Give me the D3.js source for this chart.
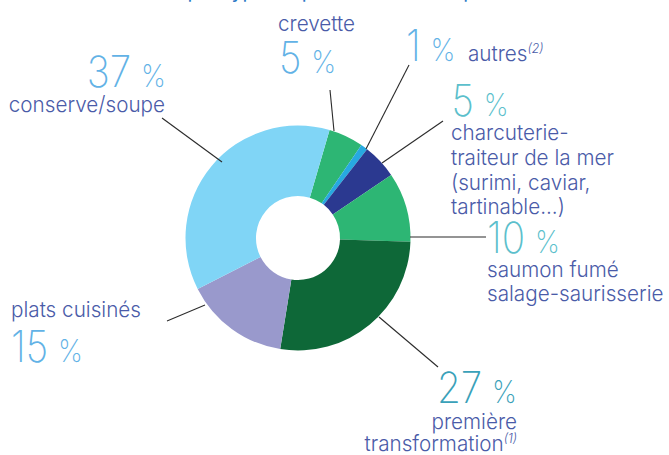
<!DOCTYPE html>
<html>
<head>
<meta charset="utf-8">
<script src="https://cdn.jsdelivr.net/npm/d3@7/dist/d3.min.js"></script>
<style>
  html, body { margin: 0; padding: 0; background: #fff; overflow: hidden; }
  svg { display: block; }
  text { font-family: Inter, "Open Sans", sans-serif; }
</style>
</head>
<body>
<svg id="chart" width="669" height="455"></svg>
<script>
// Segments, clockwise from the first slice
const categories = ["crevette", "autres", "charcuterie-traiteur de la mer", "saumon fumé salage-saurisserie",
                    "première transformation", "plats cuisinés", "conserve/soupe"];
const values = [5, 1, 5, 10, 27, 15, 37];
// Text lines next to each percentage
const labelLines = [
  ["crevette"],
  ["autres"],
  ["charcuterie-", "traiteur de la mer", "(surimi, caviar,", "tartinable...)"],
  ["saumon fumé", "salage-saurisserie"],
  ["première", "transformation"],
  ["plats cuisinés"],
  ["conserve/soupe"]
];
const notes = ["", "(2)", "", "", "(1)", "", ""];
const titleText = "Chiffre d’affaires par type de produit des entreprises";

const sliceColors = ["#2db674", "#27a9e1", "#2b3990", "#2db674", "#0e6838", "#9999cc", "#80d5f6"];
const pctColors = ["#62b2e6", "#62b2e6", "#5cbfcc", "#5cbfcc", "#3aa1b9", "#62b2e6", "#62b2e6"];
const labelColor = "#4a5ba8";

const svg = d3.select("#chart");
const cx = 298, cy = 238, rOuter = 112.5, rInner = 42;
const startDeg = 16.3;

// Title line running off the top edge
const title = svg.append("text")
  .attr("y", -2.5)
  .attr("fill", "#2a78c6")
  .attr("font-size", 20)
  .attr("font-family", "Open Sans")
  .text(titleText);
{
  const probe = svg.append("text").attr("font-size", 20).attr("font-family", "Open Sans")
    .text("Chiffre d’affaires ");
  const w = probe.node().getComputedTextLength();
  probe.remove();
  title.attr("x", 182 - w);
}

const pie = d3.pie().sort(null).value(d => d)
  .startAngle(startDeg * Math.PI / 180)
  .endAngle(startDeg * Math.PI / 180 + 2 * Math.PI);
const arc = d3.arc().innerRadius(rInner).outerRadius(rOuter);
const arcs = pie(values);

const g = svg.append("g").attr("transform", `translate(${cx},${cy})`);
g.selectAll("path").data(arcs).join("path")
  .attr("d", arc)
  .attr("fill", (d, i) => sliceColors[i]);

// Leader lines: start point on the label side, end point inside the ring
const leaders = [
  [[330, 90], [334, 131]],
  [[409, 65], [366, 149]],
  [[443, 121], [382, 163]],
  [[410, 237], [486, 237]],
  [[379, 317], [438, 367]],
  [[167, 321], [205, 305]],
  [[162, 118], [222, 162]]
];
svg.append("g").selectAll("line").data(leaders).join("line")
  .attr("x1", d => d[0][0]).attr("y1", d => d[0][1])
  .attr("x2", d => d[1][0]).attr("y2", d => d[1][1])
  .attr("stroke", "#2b2b2b").attr("stroke-width", 1.1);

// Label placement: anchor, x, baseline of the percentage, baselines of the text lines
const layout = [
  { anchor: "start", x: 279, pctY: 72.7, lineX: 278, lines: [30.7] },
  { anchor: "start", x: 406, pctY: 61, lineX: 468, lines: [61] },
  { anchor: "start", x: 451.5, pctY: 116, lineX: 451, lines: [140, 165, 190, 214] },
  { anchor: "start", x: 487, pctY: 253.3, lineX: 487, lines: [277, 300.5] },
  { anchor: "end", x: 517, pctY: 403.3, lineX: 517, lines: [428.5, 450.5] },
  { anchor: "start", x: 11, pctY: 361.7, lineX: 11, lines: [317] },
  { anchor: "end", x: 166, pctY: 86.7, lineX: 165, lines: [111.7] }
];
const numScale = 0.9, labScale = 0.94;

arcs.forEach((a, i) => {
  const L = layout[i];
  // percentage: thin big number, smaller percent sign
  const pg = svg.append("g").attr("transform", `translate(${L.x},${L.pctY}) scale(${numScale},1)`);
  const t = pg.append("text")
    .attr("text-anchor", L.anchor)
    .attr("fill", pctColors[i])
    .attr("font-weight", 200);
  t.append("tspan").attr("font-size", 43).text(values[i]);
  t.append("tspan").attr("font-size", 31).attr("font-weight", 250).attr("dx", 11).text("%");

  L.lines.forEach((y, k) => {
    const lg = svg.append("g").attr("transform", `translate(${L.lineX},${y}) scale(${labScale},1)`);
    const lt = lg.append("text")
      .attr("text-anchor", L.anchor)
      .attr("fill", labelColor)
      .attr("font-size", 22)
      .attr("font-weight", 300);
    lt.append("tspan").text(labelLines[i][k]);
    if (notes[i] && k === L.lines.length - 1) {
      lt.append("tspan").attr("font-size", 13).attr("font-style", "italic")
        .attr("dy", -8).text(notes[i]);
    }
  });
});
</script>
</body>
</html>
